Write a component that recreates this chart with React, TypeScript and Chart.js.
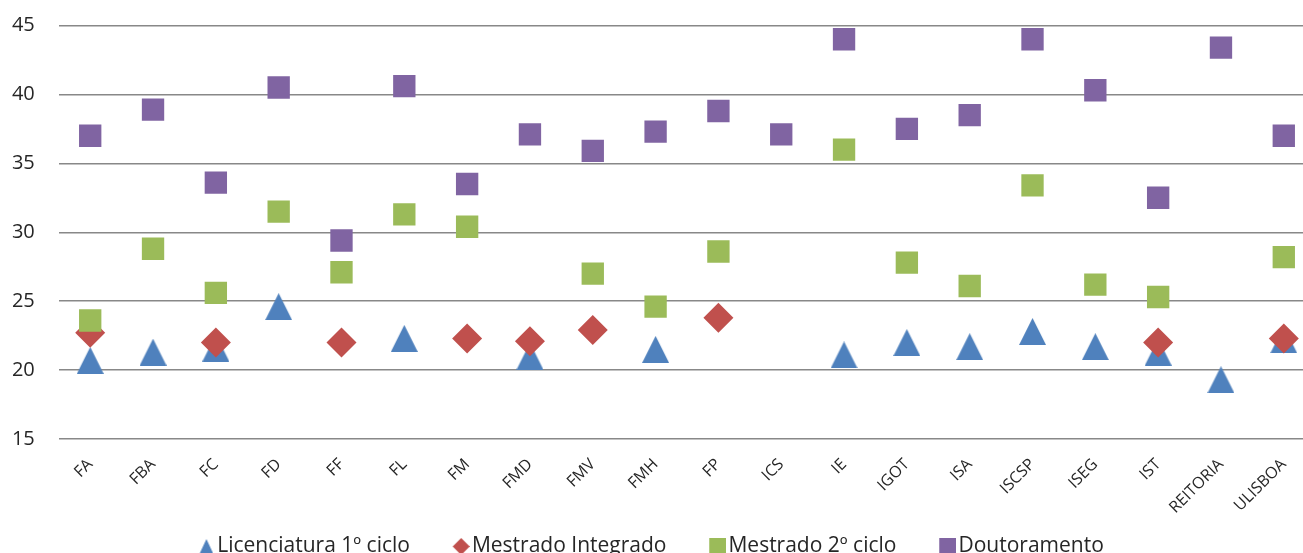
import React, { useEffect, useRef } from "react";
import { Chart, registerables } from "chart.js";

Chart.register(...registerables);

const categories = ["FA", "FBA", "FC", "FD", "FF", "FL", "FM", "FMD", "FMV", "FMH", "FP", "ICS", "IE", "IGOT", "ISA", "ISCSP", "ISEG", "IST", "REITORIA", "ULISBOA"];

const licenciatura = [20.7, 21.3, 21.6, 24.6, null, 22.3, null, 21.0, null, 21.5, null, null, 21.1, 22.0, 21.7, 22.8, 21.7, 21.3, 19.3, 22.2];
const mestradoIntegrado = [22.7, null, 22.0, null, 22.0, null, 22.3, 22.1, 22.9, null, 23.8, null, null, null, null, null, null, 22.0, null, 22.3];
const mestrado2Ciclo = [23.6, 28.8, 25.6, 31.5, 27.1, 31.3, 30.4, null, 27.0, 24.6, 28.6, null, 36.0, 27.8, 26.1, 33.4, 26.2, 25.3, null, 28.2];
const doutoramento = [37.0, 38.9, 33.6, 40.5, 29.4, 40.6, 33.5, 37.1, 35.9, 37.3, 38.8, 37.1, 44.0, 37.5, 38.5, 44.0, 40.3, 32.5, 43.4, 37.0];

const seriesNames = ["Licenciatura 1º ciclo", "Mestrado Integrado", "Mestrado 2º ciclo", "Doutoramento"];
const seriesColors = ["#4F81BD", "#C0504D", "#9BBB59", "#8064A2"];

const yMin = 15;
const yMax = 45;
const yStep = 5;

// legend marker image: transparent area on the left, marker drawn offset to the right
function legendImage(kind: string, color: string, imgW: number, markerW: number, markerH: number) {
  const c = document.createElement("canvas");
  c.width = imgW;
  c.height = markerH;
  const g = c.getContext("2d")!;
  g.fillStyle = color;
  const x0 = imgW - markerW;
  g.beginPath();
  if (kind === "triangle") {
    g.moveTo(x0 + markerW / 2, 0);
    g.lineTo(x0 + markerW, markerH);
    g.lineTo(x0, markerH);
  } else if (kind === "diamond") {
    g.moveTo(x0 + markerW / 2, 0);
    g.lineTo(x0 + markerW, markerH / 2);
    g.lineTo(x0 + markerW / 2, markerH);
    g.lineTo(x0, markerH / 2);
  } else {
    g.rect(x0, 0, markerW, markerH);
  }
  g.closePath();
  g.fill();
  return c;
}

function makeTriangle(w: number, h: number, color: string) {
  const c = document.createElement("canvas");
  c.width = w;
  c.height = h;
  const g = c.getContext("2d")!;
  g.fillStyle = color;
  g.beginPath();
  g.moveTo(w / 2, 0);
  g.lineTo(w, h);
  g.lineTo(0, h);
  g.closePath();
  g.fill();
  return c;
}

const W = 1331;
const H = 567;

export default function App() {
  const ref = useRef<HTMLCanvasElement | null>(null);

  useEffect(() => {
    document.body.style.margin = "0";
    const canvas = ref.current;
    if (!canvas) return;

    const triImg = makeTriangle(27, 27, seriesColors[0]);
    const legendImgs = [
      legendImage("triangle", seriesColors[0], 55, 14, 15),
      legendImage("diamond", seriesColors[1], 58, 17, 17),
      legendImage("square", seriesColors[2], 58, 17, 17),
      legendImage("square", seriesColors[3], 58, 17, 17),
    ];

    const shiftLegend = {
      id: "shiftLegend",
      afterLayout(chart: any) {
        const l = chart.legend;
        if (l) {
          l.left -= 31;
          l.right -= 31;
        }
      },
    };

    const textColor = "#262626";
    const allData = [licenciatura, mestradoIntegrado, mestrado2Ciclo, doutoramento];
    const styles: any[] = [triImg, "rectRot", "rect", "rect"];
    const radii = [14, 15, 15.8, 15.8];

    const chart = new Chart(canvas, {
      type: "line",
      data: {
        labels: categories,
        datasets: allData.map((d, i) => ({
          label: seriesNames[i],
          data: d,
          showLine: false,
          pointStyle: styles[i],
          pointRadius: radii[i],
          pointHoverRadius: radii[i],
          pointBorderWidth: 0,
          backgroundColor: seriesColors[i],
          borderColor: seriesColors[i],
          order: 4 - i,
        })),
      },
      options: {
        responsive: false,
        animation: false,
        layout: { padding: { top: 25.5, left: 0, right: 0, bottom: 0 } },
        font: { family: "'Open Sans', sans-serif" },
        plugins: {
          tooltip: { enabled: false },
          legend: {
            position: "bottom",
            labels: {
              usePointStyle: true,
              pointStyleWidth: 41.5,
              boxWidth: 41.5,
              boxHeight: 7,
              padding: 10,
              color: textColor,
              font: { size: 21, family: "'Open Sans', sans-serif" },
              generateLabels: () =>
                seriesNames.map((name, i) => ({
                  text: name,
                  pointStyle: legendImgs[i] as any,
                  fillStyle: seriesColors[i],
                  strokeStyle: seriesColors[i],
                  lineWidth: 0,
                  hidden: false,
                  datasetIndex: i,
                  fontColor: textColor,
                })),
            },
          },
        },
        scales: {
          x: {
            offset: true,
            grid: { display: false },
            border: { display: false },
            ticks: {
              autoSkip: false,
              minRotation: 45,
              maxRotation: 45,
              padding: 8,
              color: textColor,
              font: { size: 16, family: "'Open Sans', sans-serif" },
            },
            afterFit: (s: any) => {
              s.height = 87;
              s.paddingLeft = 0;
              s.paddingRight = 0;
              s.paddingTop = 0;
              s.paddingBottom = 0;
            },
          },
          y: {
            min: yMin,
            max: yMax,
            ticks: {
              stepSize: yStep,
              padding: 24,
              color: textColor,
              font: { size: 20, family: "'Open Sans', sans-serif" },
            },
            grid: { color: "#888888", lineWidth: 1.4, drawTicks: false },
            border: { display: false },
            afterFit: (s: any) => {
              s.width = 58.8;
              s.paddingTop = 0;
              s.paddingBottom = 0;
              s.paddingLeft = 0;
              s.paddingRight = 0;
            },
          },
        },
      },
      plugins: [shiftLegend],
    });

    return () => chart.destroy();
  }, []);

  return (
    <div style={{ width: 1303, height: 553, overflow: "hidden", background: "#fff" }}>
      <canvas ref={ref} width={W} height={H} style={{ width: W, height: H, display: "block" }} />
    </div>
  );
}
